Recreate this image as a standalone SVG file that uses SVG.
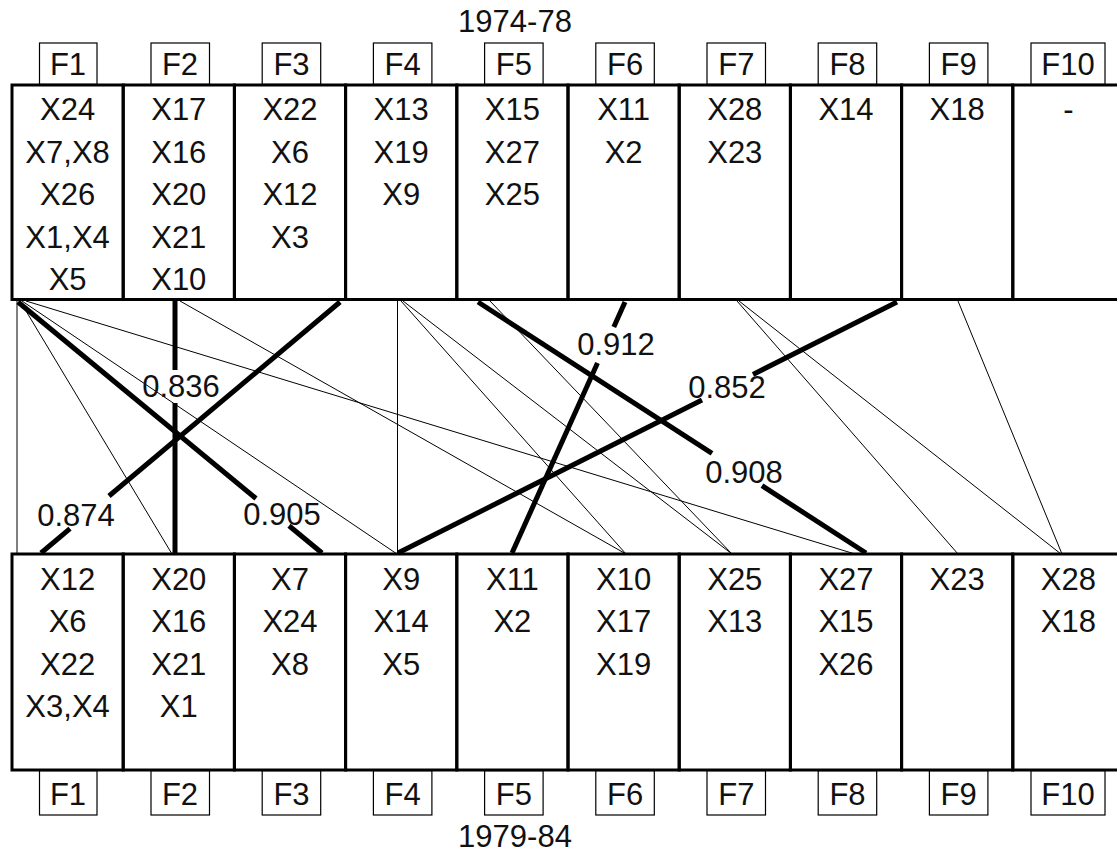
<svg xmlns="http://www.w3.org/2000/svg" width="1117" height="854" viewBox="0 0 1117 854">
<style>
text{font-family:"Liberation Sans",Arial,sans-serif;font-size:31px;fill:#111;text-anchor:middle}
.col{fill:none;stroke:#000;stroke-width:3}
.lbl{fill:#fff;stroke:#000;stroke-width:1.2}
.thin{fill:none;stroke:#000;stroke-width:1}
.thick{fill:none;stroke:#000;stroke-width:5}
</style>
<rect width="1117" height="854" fill="#fff"/>
<text x="515" y="32">1974-78</text>
<text x="515" y="847">1979-84</text>

<g id="connectors">
<line class="thin" x1="17" y1="301" x2="17" y2="554"/>
<line class="thin" x1="20" y1="301" x2="172" y2="554"/>
<line class="thin" x1="22" y1="301" x2="397" y2="554"/>
<line class="thin" x1="26" y1="301" x2="855" y2="554"/>
<line class="thin" x1="180" y1="301" x2="626" y2="554"/>
<line class="thin" x1="397.5" y1="301" x2="397.5" y2="554"/>
<line class="thin" x1="401" y1="301" x2="626" y2="554"/>
<line class="thin" x1="403" y1="301" x2="732" y2="554"/>
<line class="thin" x1="490" y1="301" x2="732" y2="554"/>
<line class="thin" x1="737" y1="301" x2="958" y2="554"/>
<line class="thin" x1="739" y1="301" x2="1061" y2="554"/>
<line class="thin" x1="958" y1="301" x2="1062" y2="554"/>

<line class="thick" x1="175" y1="301" x2="175" y2="370"/>
<line class="thick" x1="175" y1="403" x2="175" y2="554"/>
<text x="181" y="397">0.836</text>

<line class="thick" x1="18" y1="302" x2="256" y2="498.5"/>
<line class="thick" x1="289" y1="525.8" x2="322" y2="553"/>
<text x="282" y="525">0.905</text>

<line class="thick" x1="340" y1="302" x2="109" y2="496"/>
<line class="thick" x1="70" y1="528.7" x2="41" y2="553"/>
<text x="76" y="526">0.874</text>

<line class="thick" x1="478" y1="302" x2="712" y2="453.4"/>
<line class="thick" x1="762" y1="485.7" x2="866" y2="553"/>
<text x="744" y="483">0.908</text>

<line class="thick" x1="625" y1="302" x2="613.8" y2="327"/>
<line class="thick" x1="597.5" y1="363" x2="512" y2="553"/>
<text x="616" y="355">0.912</text>

<line class="thick" x1="897" y1="302" x2="753" y2="374.4"/>
<line class="thick" x1="702" y1="400" x2="398" y2="553"/>
<text x="727" y="398">0.852</text>
</g>

<g id="top-F1"><rect class="col" x="12" y="85" width="111.2" height="214.5"/><rect class="lbl" x="39.5" y="43" width="57.5" height="41"/><text x="68" y="75">F1</text>
<text x="67.6" y="120">X24</text><text x="67.6" y="162.5">X7,X8</text><text x="67.6" y="205">X26</text><text x="67.6" y="247.5">X1,X4</text><text x="67.6" y="290">X5</text></g>
<g id="top-F2"><rect class="col" x="123.2" y="85" width="111.2" height="214.5"/><rect class="lbl" x="151" y="43" width="58.5" height="41"/><text x="180" y="75">F2</text>
<text x="178.8" y="120">X17</text><text x="178.8" y="162.5">X16</text><text x="178.8" y="205">X20</text><text x="178.8" y="247.5">X21</text><text x="178.8" y="290">X10</text></g>
<g id="top-F3"><rect class="col" x="234.4" y="85" width="111.2" height="214.5"/><rect class="lbl" x="262.2" y="43" width="58.5" height="41"/><text x="291.5" y="75">F3</text>
<text x="290" y="120">X22</text><text x="290" y="162.5">X6</text><text x="290" y="205">X12</text><text x="290" y="247.5">X3</text></g>
<g id="top-F4"><rect class="col" x="345.6" y="85" width="111.2" height="214.5"/><rect class="lbl" x="373.4" y="43" width="58.5" height="41"/><text x="402.7" y="75">F4</text>
<text x="401.2" y="120">X13</text><text x="401.2" y="162.5">X19</text><text x="401.2" y="205">X9</text></g>
<g id="top-F5"><rect class="col" x="456.8" y="85" width="111.2" height="214.5"/><rect class="lbl" x="484.6" y="43" width="58.5" height="41"/><text x="513.9" y="75">F5</text>
<text x="512.4" y="120">X15</text><text x="512.4" y="162.5">X27</text><text x="512.4" y="205">X25</text></g>
<g id="top-F6"><rect class="col" x="568" y="85" width="111.2" height="214.5"/><rect class="lbl" x="595.8" y="43" width="58.5" height="41"/><text x="625.1" y="75">F6</text>
<text x="623.6" y="120">X11</text><text x="623.6" y="162.5">X2</text></g>
<g id="top-F7"><rect class="col" x="679.2" y="85" width="111.2" height="214.5"/><rect class="lbl" x="707" y="43" width="58.5" height="41"/><text x="736.3" y="75">F7</text>
<text x="734.8" y="120">X28</text><text x="734.8" y="162.5">X23</text></g>
<g id="top-F8"><rect class="col" x="790.4" y="85" width="111.2" height="214.5"/><rect class="lbl" x="818.2" y="43" width="58.5" height="41"/><text x="847.5" y="75">F8</text>
<text x="846" y="120">X14</text></g>
<g id="top-F9"><rect class="col" x="901.6" y="85" width="111.2" height="214.5"/><rect class="lbl" x="929.4" y="43" width="58.5" height="41"/><text x="958.7" y="75">F9</text>
<text x="957.2" y="120">X18</text></g>
<g id="top-F10"><rect class="col" x="1012.8" y="85" width="111.2" height="214.5"/><rect class="lbl" x="1031" y="43" width="74" height="41"/><text x="1068" y="75">F10</text>
<text x="1068.4" y="120">-</text></g>

<g id="bottom-F1"><rect class="col" x="12" y="554" width="111.2" height="216"/><rect class="lbl" x="39.5" y="771" width="57.5" height="44"/><text x="68" y="805">F1</text>
<text x="67.6" y="589.5">X12</text><text x="67.6" y="632">X6</text><text x="67.6" y="674.5">X22</text><text x="67.6" y="717">X3,X4</text></g>
<g id="bottom-F2"><rect class="col" x="123.2" y="554" width="111.2" height="216"/><rect class="lbl" x="151" y="771" width="58.5" height="44"/><text x="180" y="805">F2</text>
<text x="178.8" y="589.5">X20</text><text x="178.8" y="632">X16</text><text x="178.8" y="674.5">X21</text><text x="178.8" y="717">X1</text></g>
<g id="bottom-F3"><rect class="col" x="234.4" y="554" width="111.2" height="216"/><rect class="lbl" x="262.2" y="771" width="58.5" height="44"/><text x="291.5" y="805">F3</text>
<text x="290" y="589.5">X7</text><text x="290" y="632">X24</text><text x="290" y="674.5">X8</text></g>
<g id="bottom-F4"><rect class="col" x="345.6" y="554" width="111.2" height="216"/><rect class="lbl" x="373.4" y="771" width="58.5" height="44"/><text x="402.7" y="805">F4</text>
<text x="401.2" y="589.5">X9</text><text x="401.2" y="632">X14</text><text x="401.2" y="674.5">X5</text></g>
<g id="bottom-F5"><rect class="col" x="456.8" y="554" width="111.2" height="216"/><rect class="lbl" x="484.6" y="771" width="58.5" height="44"/><text x="513.9" y="805">F5</text>
<text x="512.4" y="589.5">X11</text><text x="512.4" y="632">X2</text></g>
<g id="bottom-F6"><rect class="col" x="568" y="554" width="111.2" height="216"/><rect class="lbl" x="595.8" y="771" width="58.5" height="44"/><text x="625.1" y="805">F6</text>
<text x="623.6" y="589.5">X10</text><text x="623.6" y="632">X17</text><text x="623.6" y="674.5">X19</text></g>
<g id="bottom-F7"><rect class="col" x="679.2" y="554" width="111.2" height="216"/><rect class="lbl" x="707" y="771" width="58.5" height="44"/><text x="736.3" y="805">F7</text>
<text x="734.8" y="589.5">X25</text><text x="734.8" y="632">X13</text></g>
<g id="bottom-F8"><rect class="col" x="790.4" y="554" width="111.2" height="216"/><rect class="lbl" x="818.2" y="771" width="58.5" height="44"/><text x="847.5" y="805">F8</text>
<text x="846" y="589.5">X27</text><text x="846" y="632">X15</text><text x="846" y="674.5">X26</text></g>
<g id="bottom-F9"><rect class="col" x="901.6" y="554" width="111.2" height="216"/><rect class="lbl" x="929.4" y="771" width="58.5" height="44"/><text x="958.7" y="805">F9</text>
<text x="957.2" y="589.5">X23</text></g>
<g id="bottom-F10"><rect class="col" x="1012.8" y="554" width="111.2" height="216"/><rect class="lbl" x="1031" y="771" width="74" height="44"/><text x="1068" y="805">F10</text>
<text x="1068.4" y="589.5">X28</text><text x="1068.4" y="632">X18</text></g>
</svg>
